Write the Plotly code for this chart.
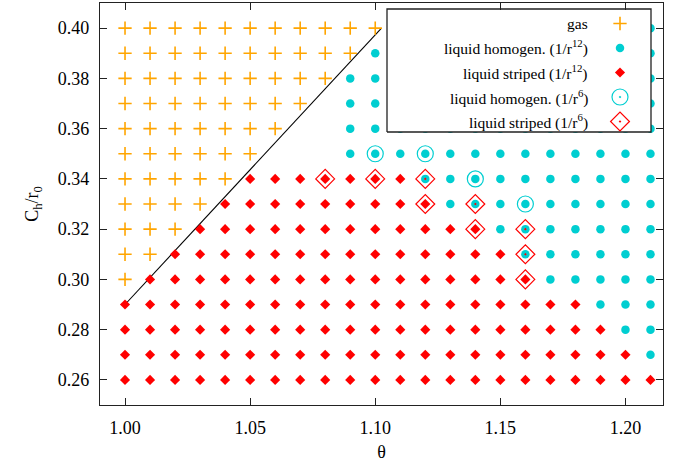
import plotly.graph_objects as go

# ---------------- data ----------------
theta_values = [1.00, 1.01, 1.02, 1.03, 1.04, 1.05, 1.06, 1.07, 1.08, 1.09, 1.10,
                1.11, 1.12, 1.13, 1.14, 1.15, 1.16, 1.17, 1.18, 1.19, 1.20, 1.21]
ch_values = [0.40, 0.39, 0.38, 0.37, 0.36, 0.35, 0.34, 0.33,
             0.32, 0.31, 0.30, 0.29, 0.28, 0.27, 0.26]
# phase per grid cell (1/r^12): G = gas, H = liquid homogeneous, S = liquid striped, . = none
phase_rows = [
    "GGGGGGGGGGGHHHHHHHHHHH",  # 0.40
    "GGGGGGGGGGHHHHHHHHHHHH",  # 0.39
    "GGGGGGGGGHHHHHHHHHHHHH",  # 0.38
    "GGGGGGGG.HHHHHHHHHHHHH",  # 0.37
    "GGGGGGG..HHHHHHHHHHHHH",  # 0.36
    "GGGGGG...HHHHHHHHHHHHH",  # 0.35
    "GGGGGSSSSSSSHHHHHHHHHH",  # 0.34
    "GGGGSSSSSSSSSHHHHHHHHH",  # 0.33
    "GGGSSSSSSSSSSSSHHHHHHH",  # 0.32
    "GGSSSSSSSSSSSSSSHHHHHH",  # 0.31
    "GSSSSSSSSSSSSSSSSHHHHH",  # 0.30
    "SSSSSSSSSSSSSSSSSSSHHH",  # 0.29
    "SSSSSSSSSSSSSSSSSSSSHH",  # 0.28
    "SSSSSSSSSSSSSSSSSSSSSH",  # 0.27
    "SSSSSSSSSSSSSSSSSSSSSS",  # 0.26
]
homog6_theta = [1.10, 1.12, 1.14, 1.16]
homog6_ch = [0.35, 0.35, 0.34, 0.33]
striped6_theta = [1.08, 1.10, 1.12, 1.12, 1.14, 1.14, 1.16, 1.16, 1.16]
striped6_ch = [0.34, 0.34, 0.34, 0.33, 0.33, 0.32, 0.32, 0.31, 0.30]
boundary_theta = [1.00, 1.1025]
boundary_ch = [0.29, 0.40]

series_names = ["gas", "liquid homogen. (1/r<sup>12</sup>)", "liquid striped (1/r<sup>12</sup>)",
                "liquid homogen. (1/r<sup>6</sup>)", "liquid striped (1/r<sup>6</sup>)"]
x_ticks = [1.00, 1.05, 1.10, 1.15, 1.20]
y_ticks = [0.26, 0.28, 0.30, 0.32, 0.34, 0.36, 0.38, 0.40]

# ---------------- styles ----------------
ORANGE = "#FFA500"
CYAN = "#00CED1"
RED = "#FF0000"
FONT = "Liberation Serif, Times New Roman, serif"

marker_styles = [
    dict(symbol="cross-thin", size=9.5, color=ORANGE, line=dict(color=ORANGE, width=1.6)),
    dict(symbol="circle", size=8.5, color=CYAN, line=dict(width=0)),
    dict(symbol="diamond", size=7.8, color=RED, line=dict(width=0)),
    dict(symbol="circle-open-dot", size=16, color=CYAN, line=dict(color=CYAN, width=1.2)),
    dict(symbol="diamond-open-dot", size=14.5, color=RED, line=dict(color=RED, width=1.2)),
]

# split grid by phase
groups = {"G": ([], []), "H": ([], []), "S": ([], [])}
for c, row in zip(ch_values, phase_rows):
    assert len(row) == len(theta_values)
    for t, p in zip(theta_values, row):
        if p in groups:
            groups[p][0].append(t)
            groups[p][1].append(c)

fig = go.Figure()
fig.add_trace(go.Scatter(x=boundary_theta, y=boundary_ch, mode="lines",
                         line=dict(color="black", width=1.1), showlegend=False, hoverinfo="skip"))
series_xy = [groups["G"], groups["H"], groups["S"],
             (homog6_theta, homog6_ch), (striped6_theta, striped6_ch)]
for (xs, ys), ms, nm in zip(series_xy, marker_styles, series_names):
    fig.add_trace(go.Scatter(x=xs, y=ys, mode="markers", marker=ms, name=nm,
                             showlegend=False, hoverinfo="x+y"))

# ---------------- custom gnuplot-style legend (text left, key right) ----------------
W, H = 674, 466
PL, PR, PT, PB = 100, 663, 3, 405
def px(x):
    return (x - PL) / (PR - PL)
def py(y):
    return (PB - y) / (PB - PT)

LEG_L, LEG_R, LEG_T, LEG_B = 387, 651, 9, 132
LEG_TEXT_R, LEG_KEY_X, LEG_ROW0, LEG_PITCH = 590, 620, 23.5, 24.5
key_y = [py(LEG_ROW0 + i * LEG_PITCH) for i in range(len(series_names))]

# legend frame on an overlay layer so that it hides the data beneath it
fig.add_trace(go.Scatter(
    x=[px(LEG_L), px(LEG_R), px(LEG_R), px(LEG_L), px(LEG_L)],
    y=[py(LEG_B), py(LEG_B), py(LEG_T), py(LEG_T), py(LEG_B)],
    mode="lines", fill="toself", fillcolor="white",
    line=dict(color="#222222", width=1.3), xaxis="x2", yaxis="y2",
    showlegend=False, hoverinfo="skip"))
for i, nm in enumerate(series_names):
    fig.add_annotation(xref="paper", yref="paper", x=px(LEG_TEXT_R), y=key_y[i],
                       text=nm, showarrow=False, xanchor="right", yanchor="middle",
                       font=dict(family=FONT, size=15.5, color="black"))
    fig.add_trace(go.Scatter(x=[px(LEG_KEY_X)], y=[key_y[i]], mode="markers",
                             marker=marker_styles[i], xaxis="x2", yaxis="y2",
                             showlegend=False, hoverinfo="skip"))

axis_common = dict(showgrid=False, zeroline=False, showline=True, linecolor="#222222",
                   linewidth=1.2, mirror="ticks", ticks="inside", ticklen=7,
                   tickcolor="#222222", tickwidth=1,
                   tickfont=dict(family=FONT, size=18, color="black"))
fig.update_layout(
    width=W, height=H,
    margin=dict(l=PL, r=W - PR, t=PT, b=H - PB),
    paper_bgcolor="white", plot_bgcolor="white",
    showlegend=False,
    font=dict(family=FONT, color="black"),
    xaxis=dict(range=[0.99, 1.215], tickvals=x_ticks, tickformat=".2f",
               title=dict(text="θ", font=dict(family=FONT, size=18, color="black"), standoff=8),
               ticklabelstandoff=6, **axis_common),
    yaxis=dict(range=[0.25, 0.41], tickvals=y_ticks, tickformat=".2f",
               title=dict(text="C<sub>h</sub>/r<sub>0</sub>", font=dict(family=FONT, size=18, color="black"), standoff=14),
               ticklabelstandoff=6, **axis_common),
    xaxis2=dict(range=[0, 1], overlaying="x", visible=False, fixedrange=True),
    yaxis2=dict(range=[0, 1], overlaying="y", visible=False, fixedrange=True),
)

fig.write_html("out.html")
